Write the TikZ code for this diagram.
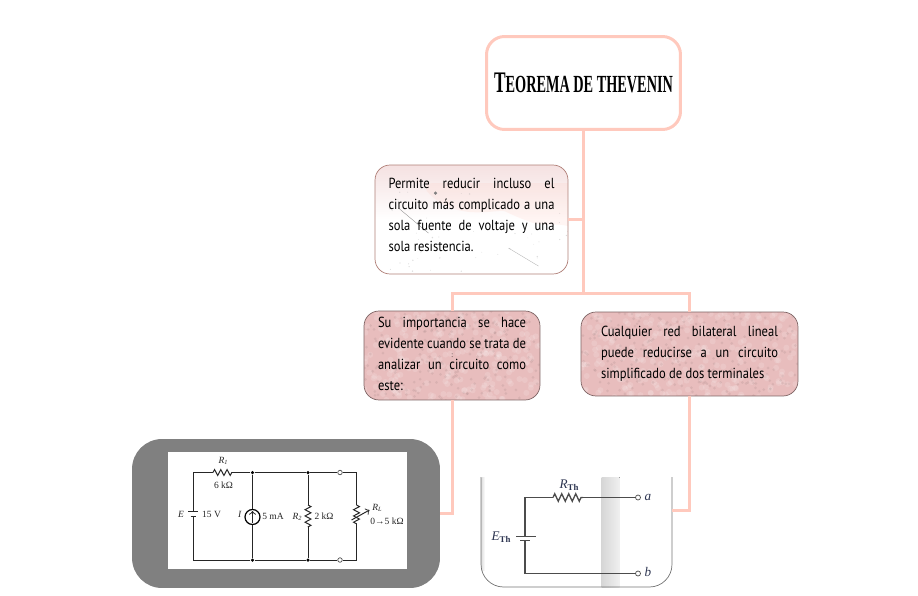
\documentclass[tikz,border=0pt]{standalone}
\usepackage{fontspec}
\setmainfont{PT Sans}[FakeStretch=0.86]
\newfontfamily\titlefont{Liberation Serif}[FakeStretch=0.58]
\newfontfamily\circfont{Liberation Serif}
\usetikzlibrary{positioning, calc, decorations.pathmorphing}

\definecolor{linkpink}{HTML}{FFC9BD}
\definecolor{boxpink}{HTML}{E8BDBD}
\definecolor{boxedge}{HTML}{7E6464}
\definecolor{marbleedge}{HTML}{B08078}
\definecolor{markgray}{HTML}{808080}
\definecolor{inkblue}{HTML}{2C3450}

\newcommand{\rsub}[2]{\textit{#1}\raisebox{-0.6pt}{\fontsize{3.6}{4}\selectfont\textit{#2}}}
\newcommand{\thsub}[1]{\textit{#1}\raisebox{-1pt}{\fontsize{5}{5}\selectfont\textbf{Th}}}
\newcommand{\liftup}[1]{\par\nointerlineskip\hbox{\rule{0pt}{#1}}}

\begin{document}
\begin{tikzpicture}[
    x=0.02cm, y=-0.02cm,
    link/.style={line width=0.06cm, linkpink},
    titlebox/.style={
        rectangle, rounded corners=0.36cm, draw=linkpink, line width=0.06cm, fill=white,
        minimum width=3.88cm, minimum height=1.86cm, inner sep=0pt, outer sep=0pt
    },
    textbox/.style={
        rectangle, rounded corners=0.3cm, draw=boxedge, thin, fill=boxpink,
        inner sep=0pt, outer sep=0pt, align=justify,
        font=\fontsize{8.3}{11.95}\selectfont
    },
    mottled/.style={path picture={
        \foreach \i in {1,...,300}{
            \pgfmathsetmacro{\px}{rnd*225}
            \pgfmathsetmacro{\py}{rnd*95}
            \fill[white, opacity=0.14] ($(path picture bounding box.north west)+(\px, \py)$) circle[radius=0.06cm];
            \pgfmathsetmacro{\px}{rnd*225}
            \pgfmathsetmacro{\py}{rnd*95}
            \fill[black!50!boxpink, opacity=0.12] ($(path picture bounding box.north west)+(\px, \py)$) circle[radius=0.03cm];
        }
    }},
    marble/.style={path picture={
        \begin{scope}[shift={(path picture bounding box.north west)}]
            \fill[linkpink, opacity=0.18] (30, -5) .. controls (70, 35) and (110, 20) .. (130, 30)
                .. controls (160, 40) and (180, 30) .. (200, 60) -- (200, -5) -- cycle;
            \draw[black!45, very thin] (10, 20) -- (40, 45);
            \draw[black!35, very thin] (60, 88) -- (85, 108);
            \draw[black!30, very thin] (120, 60) -- (150, 78);
            \fill[black!50] (47, 5) circle[radius=0.035cm];
            \foreach \i in {1,...,70}{
                \fill[black!40, opacity=0.35] (rnd*193, rnd*109) circle[radius=0.006cm+0.01cm*rnd];
            }
        \end{scope}
    }},
    wire/.style={line width=0.55pt, black!85},
    wirethin/.style={line width=0.75pt, black!70},
    res/.style={decorate, decoration={zigzag, segment length=0.125cm, amplitude=0.06cm}},
    tag/.style={font=\circfont\fontsize{5.4}{6}\selectfont, inner sep=0pt, text=black!85},
    bigtag/.style={font=\circfont\fontsize{7.5}{8}\selectfont, inner sep=0pt, text=inkblue},
    dot/.style={circle, fill=black, inner sep=0pt, minimum size=0.07cm},
    port/.style={circle, draw=black!70, fill=white, line width=0.4pt, inner sep=0pt, minimum size=0.09cm},
]
\useasboundingbox (0,0) rectangle (918,595);
\pgfmathsetseed{7}

% Title
\node[titlebox] (title) at (583.5, 83) {\titlefont\bfseries\fontsize{17}{18}\selectfont T\fontsize{14}{18}\selectfont EOREMA DE THEVENIN};

% Text boxes
\node[textbox, draw=marbleedge, top color=boxpink!45, bottom color=white, middle color=white, shading angle=0, marble,
      minimum width=3.86cm, minimum height=2.18cm, text width=3.32cm] (permite) at (471.5, 219.5)
    {Permite reducir incluso el\linebreak circuito más complicado a una\linebreak sola fuente de voltaje y una\linebreak sola resistencia.\liftup{0.2cm}};
\node[textbox, mottled, minimum width=3.52cm, minimum height=1.78cm, text width=2.96cm] (importancia) at (452, 355.5)
    {Su importancia se hace\linebreak evidente cuando se trata de\linebreak analizar un circuito como\linebreak este:\liftup{0.07cm}};
\node[textbox, mottled, minimum width=4.34cm, minimum height=1.68cm, text width=3.54cm] (cualquier) at (689.5, 354)
    {Cualquier red bilateral lineal\linebreak puede reducirse a un circuito\linebreak simplificado de dos terminales};
\node[inner sep=0pt, font=\fontsize{4}{4}\selectfont] (speck) at (452, 356) {:};

% Full circuit
\node[rectangle, rounded corners=0.6cm, fill=markgray, minimum width=6.16cm, minimum height=2.98cm, outer sep=0pt] (fullcircuit) at (286, 513.5) {};
\node[rectangle, fill=white, minimum width=4.78cm, minimum height=2.34cm, outer sep=0pt] (fullsheet) at (287.5, 510.5) {};

\coordinate (tl) at (193, 472.5);
\coordinate (bl) at (193, 560);
\node[dot] (j1) at (252.5, 472.5) {};
\node[dot] (j2) at (308, 472.5) {};
\node[dot] (j3) at (252.5, 560) {};
\node[dot] (j4) at (308, 560) {};
\node[port] (p1) at (340, 472.5) {};
\node[port] (p2) at (340, 560) {};
\coordinate (tr) at (356.5, 472.5);
\coordinate (br) at (356.5, 560);
\coordinate (r1a) at (213, 472.5);
\coordinate (r1b) at (232, 472.5);
\node[circle, draw=black, line width=0.7pt, minimum size=0.3cm, inner sep=0pt] (isource) at (252.5, 517) {};

\draw[wire] (r1a) -- (tl) -- (193, 511.5);
\draw[wire, res] (r1a) -- (r1b);
\draw[wire] (r1b) -- (j1) -- (j2) -- (p1) -- (tr) -- (356.5, 505);
\draw[wire, res] (356.5, 505) -- (356.5, 525);
\draw[wire] (356.5, 525) -- (br) -- (p2) -- (j4) -- (j3) -- (bl) -- (193, 516);
\draw[wire] (188, 511.5) -- (198, 511.5);
\draw[wire] (190.5, 516) -- (195.5, 516);
\draw[wire] (j1) -- (isource);
\draw[wire] (isource) -- (j3);
\draw[wire, -{>[scale=0.5]}] (252.5, 523) -- (252.5, 511);
\draw[wire] (j2) -- (308, 505);
\draw[wire, res] (308, 505) -- (308, 527);
\draw[wire] (308, 527) -- (j4);
\draw[wire, -{>[scale=0.6]}] (351.5, 520) -- (369.5, 510);

\node[tag] (lr1) at (223, 461) {\rsub{R}{1}};
\node[tag] (lr1v) at (223.5, 485) {6 kΩ};
\node[tag] (le) at (181, 514) {\textit{E}};
\node[tag] (lev) at (211.5, 514) {15 V};
\node[tag] (li) at (240, 514) {\textit{I}};
\node[tag] (liv) at (273, 516.5) {5 mA};
\node[tag] (lr2) at (297, 517) {\rsub{R}{2}};
\node[tag] (lr2v) at (324, 516.5) {2 kΩ};
\node[tag] (lrl) at (377, 508) {\rsub{R}{L}};
\node[tag] (lrlv) at (387, 521) {0→5 kΩ};

% Simplified circuit
\node[rectangle, minimum width=3.82cm, minimum height=2.2cm, outer sep=0pt] (simple) at (576.5, 532) {};
\coordinate (simpleport) at (simple.east |- 0, 510);
\fill[left color=black!16, right color=black!6] (601.5, 477) rectangle (619.5, 587);
\fill[left color=black!12, right color=white] (481.5, 477) rectangle (485, 570);
\draw[black!55, line width=0.4pt, rounded corners=0.45cm] (simple.north west) -- (simple.south west) -- (simple.south east) -- (simple.north east);

\coordinate (st) at (525, 497.5);
\coordinate (sb) at (525, 573.5);
\coordinate (rtha) at (553, 497.5);
\coordinate (rthb) at (583, 497.5);
\node[port, minimum size=0.1cm] (pa) at (638, 497.5) {};
\node[port, minimum size=0.1cm] (pb) at (638, 573.5) {};
\draw[wirethin] (rtha) -- (st) -- (525, 536.5);
\draw[wirethin, res, decoration={segment length=0.14cm, amplitude=0.075cm}] (rtha) -- (rthb);
\draw[wirethin] (rthb) -- (pa);
\draw[wirethin] (525, 540.5) -- (sb) -- (pb);
\draw[wirethin] (516, 536.5) -- (535.5, 536.5);
\draw[wirethin] (520, 540.5) -- (530, 540.5);

\node[bigtag] (lrth) at (569, 485) {\thsub{R}};
\node[bigtag] (leth) at (501, 537) {\thsub{E}};
\node[bigtag] (la) at (648, 497) {\textit{a}};
\node[bigtag] (lb) at (648, 572) {\textit{b}};

% Links
\coordinate (split) at (title.south |- 0, 293);
\draw[link] (title.south) -- (split);
\draw[link] (permite.east) -- (title.south |- permite.east);
\draw[link] (split) -| (importancia.north);
\draw[link] (split) -| (cualquier.north);
\draw[link] (importancia.south) |- (fullcircuit.east);
\draw[link] (cualquier.south) |- (simpleport);

\end{tikzpicture}
\end{document}
